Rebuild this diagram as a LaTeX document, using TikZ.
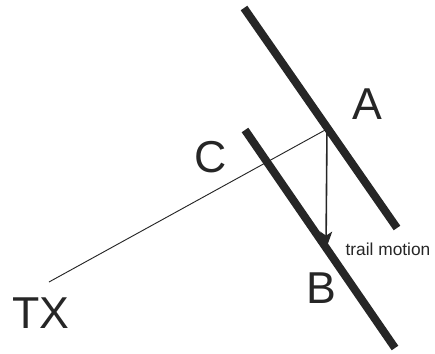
\documentclass[tikz,border=0pt]{standalone}
\usepackage{fontspec}
\setmainfont{Liberation Sans}
\usetikzlibrary{arrows.meta}
\begin{document}
\begin{tikzpicture}[x=0.75pt,y=-0.75pt,
  wall/.style={line width=6pt,draw=black!85},
  ray/.style={line width=0.7pt,draw=black!85},
  motion/.style={line width=1.2pt,draw=black!85,-{Stealth[length=13pt,width=9pt,inset=3pt]}},
  biglabel/.style={font=\fontsize{33.5}{36}\selectfont,text=black!85,inner sep=0pt},
  smalllabel/.style={font=\fontsize{13}{15}\selectfont,text=black!85,inner sep=0pt}]
\useasboundingbox (0,0) rectangle (435,353);
\coordinate (a1) at (244,8);
\coordinate (a2) at (397,228);
\coordinate (b1) at (245,130);
\coordinate (b2) at (395,348);
\coordinate (tx) at (49,282);
\coordinate (p) at (327,129);
\coordinate (q) at (326,249);
\draw[wall] (a1) -- (a2);
\draw[wall] (b1) -- (b2);
\draw[ray] (tx) -- (p);
\draw[motion] (p) -- (q);
\node[biglabel] (A) at (367,104) {A};
\node[biglabel] (B) at (321,288) {B};
\node[biglabel] (C) at (211,157) {C};
\node[biglabel] (TX) at (41,313) {TX};
\node[smalllabel] (tm) at (388,249) {trail motion};
\end{tikzpicture}
\end{document}
